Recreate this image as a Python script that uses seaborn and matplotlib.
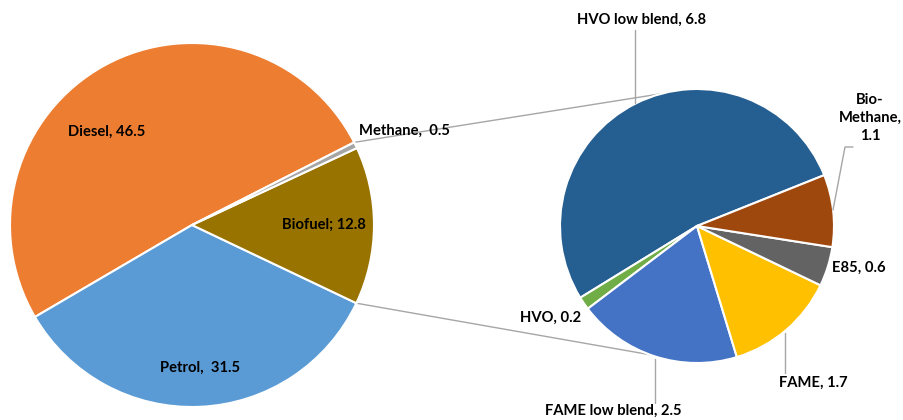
import numpy as np
import matplotlib.pyplot as plt
import seaborn as sns

# main pie
main_labels = ["Diesel", "Petrol", "Biofuel", "Methane"]
main_values = [46.5, 31.5, 12.8, 0.5]
main_colors = ["#ED7D31", "#5B9BD5", "#997300", "#A5A5A5"]

# biofuel breakdown
bio_labels = ["HVO low blend", "HVO", "FAME low blend", "FAME", "E85", "Bio-Methane"]
bio_values = [6.8, 0.2, 2.5, 1.7, 0.6, 1.1]
bio_colors = ["#255E91", "#70AD47", "#4472C4", "#FFC000", "#636363", "#9E480E"]

sns.set_style("white")
plt.rcParams['font.family'] = ['Lato', 'DejaVu Sans']

W, H = 904, 420
fig = plt.figure(figsize=(W / 100, H / 100), dpi=100)
ax = fig.add_axes([0, 0, 1, 1])


def py(y):
    # pixel row -> data y
    return H - y


c1, r1 = (192, py(225)), 182
c2, r2 = (697, py(226)), 137

w1, _ = ax.pie(main_values, colors=main_colors, startangle=27, center=c1, radius=r1,
               wedgeprops=dict(edgecolor="white", linewidth=1.5), frame=True)
w2, _ = ax.pie(bio_values, colors=bio_colors, startangle=21.8, center=c2, radius=r2,
               wedgeprops=dict(edgecolor="white", linewidth=1.5), frame=True)
ax.set_xlim(0, W)
ax.set_ylim(0, H)
ax.set_aspect("equal")
ax.axis("off")

# connector lines from biofuel+methane group to the secondary pie
grey = "#A6A6A6"
top_a = np.deg2rad(w1[3].theta2)
bot_a = np.deg2rad(w1[2].theta1)
for a_main, a_sec in [(top_a, np.deg2rad(105)), (bot_a, np.deg2rad(250))]:
    x0 = c1[0] + r1 * np.cos(a_main)
    y0 = c1[1] + r1 * np.sin(a_main)
    x1 = c2[0] + r2 * np.cos(a_sec)
    y1 = c2[1] + r2 * np.sin(a_sec)
    ax.plot([x0, x1], [y0, y1], color=grey, lw=1, zorder=0)

kw = dict(fontsize=10.6, fontweight="bold", color="black")

ax.text(107, py(132), f"{main_labels[0]}, {main_values[0]}", ha="center", va="center", **kw)
ax.text(200, py(368), f"{main_labels[1]},  {main_values[1]}", ha="center", va="center", **kw)
ax.text(324, py(225), f"{main_labels[2]}; {main_values[2]}", ha="center", va="center", **kw)
ax.text(359, py(131), f"{main_labels[3]},  {main_values[3]}", ha="left", va="center", **kw)

ax.text(642, py(20), f"{bio_labels[0]}, {bio_values[0]}", ha="center", va="center", **kw)
ax.text(581, py(318), f"{bio_labels[1]}, {bio_values[1]}", ha="right", va="center", **kw)
ax.text(613, py(411), f"{bio_labels[2]}, {bio_values[2]}", ha="center", va="center", **kw)
ax.text(813, py(383), f"{bio_labels[3]}, {bio_values[3]}", ha="center", va="center", **kw)
ax.text(832, py(268), f"{bio_labels[4]}, {bio_values[4]}", ha="left", va="center", **kw)
ax.text(870, py(118), "Bio-\nMethane,\n" + str(bio_values[5]), ha="center", va="center",
        linespacing=1.4, **kw)

# leader lines
leaders = [
    [(635, 30), (635, 103)],
    [(853, 147), (845, 147), (833, 210)],
    [(785, 373), (785, 333)],
    [(655, 403), (655, 359)],
]
for pts in leaders:
    xs = [p[0] for p in pts]
    ys = [py(p[1]) for p in pts]
    ax.plot(xs, ys, color=grey, lw=1)

fig.savefig("out.png", dpi=100, facecolor="white")
